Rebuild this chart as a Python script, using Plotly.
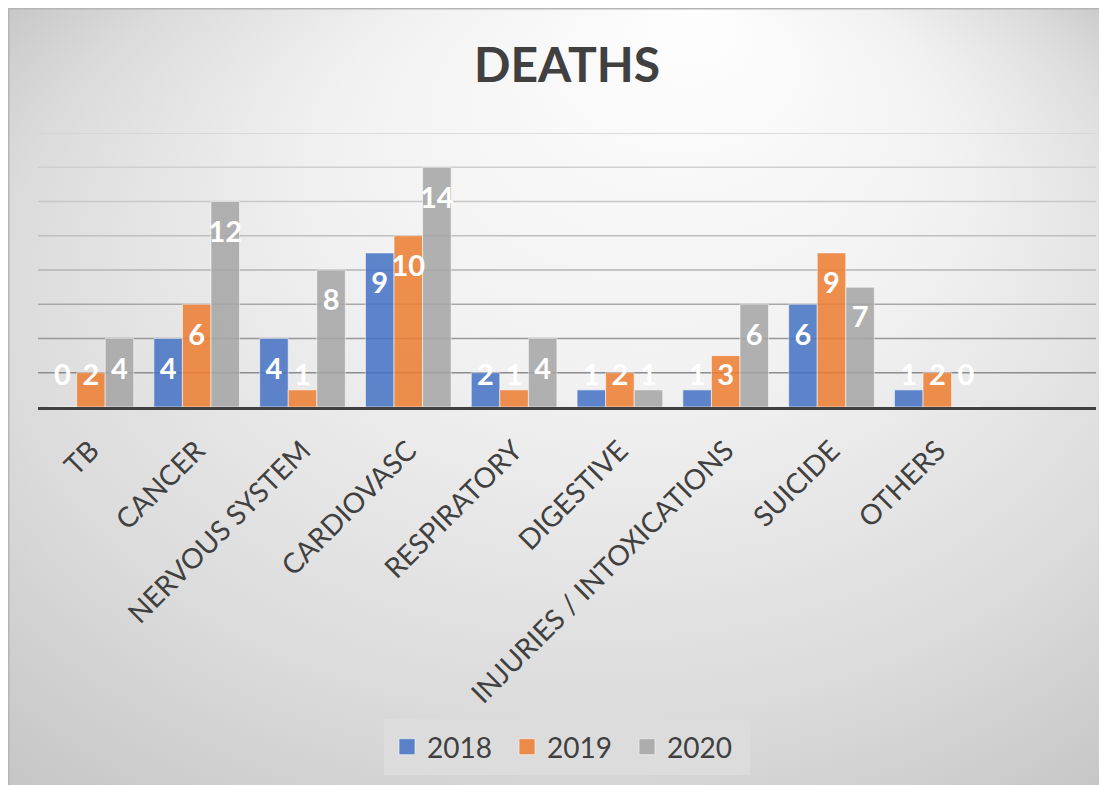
import base64
import plotly.graph_objects as go

# ---- data ----
categories = ["TB", "CANCER", "NERVOUS SYSTEM", "CARDIOVASC", "RESPIRATORY",
              "DIGESTIVE", "INJURIES / INTOXICATIONS", "SUICIDE", "OTHERS"]
deaths_2018 = [0, 4, 4, 9, 2, 1, 1, 6, 1]
deaths_2019 = [2, 6, 1, 10, 1, 2, 3, 9, 2]
deaths_2020 = [4, 12, 8, 14, 4, 1, 6, 7, 0]
series_names = ["2018", "2019", "2020"]
grid_values = [2, 4, 6, 8, 10, 12, 14, 16]

# ---- style ----
colors = ["#4472C4", "#ED7D31", "#A5A5A5"]
grid_colors = ["#8c8c8c", "#999999", "#a7a7a7", "#b4b4b4", "#bfbfbf", "#c8c8c8", "#cfcfcf", "#d3d3d3"]
# the page body adds an 8px offset; figure fills the rest of the window
W, H = 1099, 777
ML, MR, MT, MB = 30, 11, 125, 378
PW, PH = W - ML - MR, H - MT - MB
BARGAP = 0.19
BW = (1 - BARGAP) / 3
FONT = "Lato"
DARK = "#404040"

svg = f"""<svg xmlns='http://www.w3.org/2000/svg' width='{W}' height='{H}' viewBox='0 0 {W} {H}' preserveAspectRatio='none'>
<defs><radialGradient id='g' gradientUnits='objectBoundingBox' cx='0.5' cy='0.5' r='0.72' fx='0.63' fy='0.0'>
<stop offset='0' stop-color='#fefefe'/>
<stop offset='0.4' stop-color='#f1f1f1'/>
<stop offset='0.75' stop-color='#dbdbdb'/>
<stop offset='1' stop-color='#c5c5c5'/>
</radialGradient></defs>
<rect x='0' y='0' width='{W}' height='{H}' fill='url(#g)'/>
<line x1='0' y1='0.75' x2='{W}' y2='0.75' stroke='#b5b5b5' stroke-width='1.5'/>
<line x1='0.75' y1='0' x2='0.75' y2='{H}' stroke='#b5b5b5' stroke-width='1.5'/>
</svg>"""
bg_src = "data:image/svg+xml;base64," + base64.b64encode(svg.encode()).decode()

idx = list(range(len(categories)))
all_series = [deaths_2018, deaths_2019, deaths_2020]

fig = go.Figure()
for k, (name, vals) in enumerate(zip(series_names, all_series)):
    fig.add_trace(go.Bar(
        x=idx, y=vals, name=name, showlegend=False,
        marker=dict(color=colors[k], opacity=0.85,
                    line=dict(color="rgba(255,255,255,0.6)", width=1)),
        hoverinfo="x+y",
    ))

# value labels (inside end, clamped near baseline for short bars)
px_per_unit = PH / 16.0
for k, vals in enumerate(all_series):
    off = (k - 1) * BW
    ys = [max(v - 33 / px_per_unit, 29 / px_per_unit) for v in vals]
    fig.add_trace(go.Scatter(
        x=[i + off for i in idx], y=ys, text=[str(v) for v in vals],
        mode="text", textposition="middle center", showlegend=False,
        textfont=dict(family=FONT, size=29, color="white", weight="bold"),
        hoverinfo="skip",
    ))

# legend entries
for k, name in enumerate(series_names):
    fig.add_trace(go.Scatter(
        x=[None], y=[None], mode="markers", name=name,
        marker=dict(symbol="square", size=17, color=colors[k], opacity=0.85,
                    line=dict(color="rgba(255,255,255,0.6)", width=1)),
    ))

shapes = []
for gv, gc in zip(grid_values, grid_colors):
    shapes.append(dict(type="line", xref="paper", yref="y", x0=0, x1=1, y0=gv, y1=gv,
                       line=dict(color=gc, width=1.3), layer="below"))

fig.update_layout(
    width=W, height=H,
    margin=dict(l=ML, r=MR, t=MT, b=MB, pad=0),
    paper_bgcolor="white", plot_bgcolor="rgba(0,0,0,0)",
    barmode="group", bargap=BARGAP, bargroupgap=0,
    title=dict(text="DEATHS", x=0.5, xref="paper", xanchor="center",
               y=1 - 57 / H, yanchor="middle",
               font=dict(family=FONT, size=48, color=DARK, weight="bold")),
    xaxis=dict(range=[-0.5, 9.5], tickvals=idx, ticktext=categories, tickangle=-45,
               showgrid=False, zeroline=False, showline=True, linecolor=DARK, linewidth=3,
               ticks="outside", ticklen=13, tickcolor="rgba(0,0,0,0)",
               tickfont=dict(family=FONT, size=28, color=DARK)),
    yaxis=dict(range=[0, 16], showgrid=False, zeroline=False, showticklabels=False,
               showline=False),
    legend=dict(orientation="h", x=0.5, xanchor="center", y=-(711 - (MT + PH)) / PH,
                yanchor="top", bgcolor="#dcdcdc", bordercolor="#dcdcdc", borderwidth=3,
                font=dict(family=FONT, size=28, color=DARK),
                itemsizing="trace", entrywidth=75, entrywidthmode="pixels"),
    shapes=shapes,
    images=[dict(source=bg_src, xref="paper", yref="paper",
                 x=-ML / PW, y=1 + MT / PH, sizex=W / PW, sizey=H / PH,
                 xanchor="left", yanchor="top", sizing="stretch", layer="below")],
)

fig.write_html("out.html")
